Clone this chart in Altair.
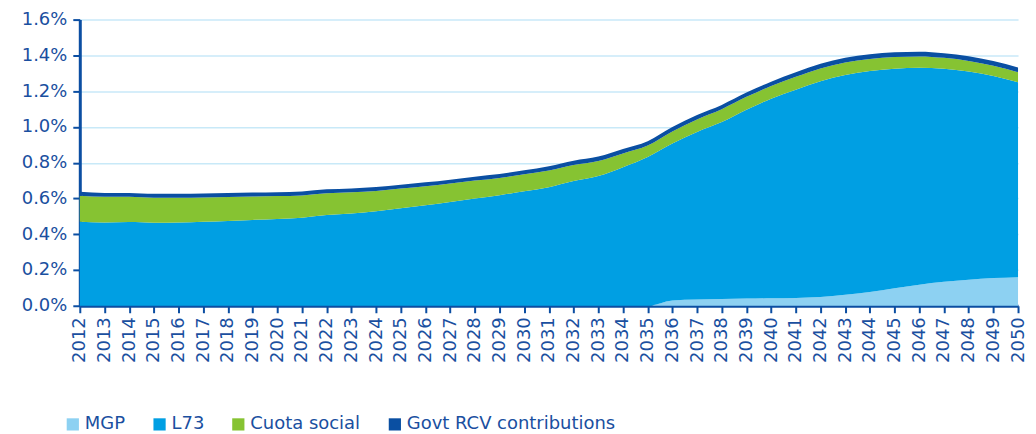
import altair as alt
import pandas as pd

years = list(range(2012, 2051))

mgp = [0.0] * 24 + [0.030, 0.035, 0.038, 0.040, 0.042, 0.044, 0.049, 0.062,
                    0.077, 0.098, 0.118, 0.134, 0.146, 0.155, 0.160]

l73 = [0.470, 0.466, 0.468, 0.464, 0.466, 0.470, 0.474, 0.480, 0.485, 0.492,
       0.507, 0.516, 0.528, 0.545, 0.562, 0.580, 0.600, 0.618, 0.640, 0.663,
       0.697, 0.725, 0.775, 0.832, 0.877, 0.937, 0.989, 1.056, 1.116, 1.164,
       1.206, 1.228, 1.235, 1.227, 1.213, 1.191, 1.164, 1.130, 1.090]

cuota = [0.145, 0.143, 0.141, 0.140, 0.138, 0.136, 0.134, 0.131, 0.128, 0.125,
         0.122, 0.118, 0.114, 0.110, 0.106, 0.103, 0.100, 0.097, 0.095, 0.093,
         0.090, 0.085, 0.077, 0.064, 0.068, 0.070, 0.072, 0.072, 0.071, 0.072,
         0.072, 0.070, 0.068, 0.066, 0.063, 0.061, 0.059, 0.057, 0.056]

govt = [0.022] * 19 + [0.024] * 10 + [0.026] * 10

series_names = ["MGP", "L73", "Cuota social", "Govt RCV contributions"]
series_colors = ["#8DD1F2", "#009FE3", "#86C332", "#0A4FA2"]
series_values = [mgp, l73, cuota, govt]

rows = []
for order, (name, vals) in enumerate(zip(series_names, series_values)):
    for y, v in zip(years, vals):
        rows.append({"year": y, "series": name, "value": v, "order": order})
df = pd.DataFrame(rows)

text_color = "#1A4FA0"
font = "DejaVu Sans"

chart = alt.Chart(df).mark_area(interpolate="monotone").encode(
    x=alt.X("year:Q",
            scale=alt.Scale(domain=[2012, 2050], nice=False, zero=False),
            axis=alt.Axis(values=years, format="d", labelAngle=-90, title=None,
                          grid=False, domainColor="#0B4EA2", domainWidth=3,
                          tickColor="#0B4EA2", tickWidth=2, tickSize=7,
                          labelFontSize=18, labelColor=text_color, labelFont=font,
                          labelPadding=4, labelOverlap=False)),
    y=alt.Y("value:Q", stack="zero",
            scale=alt.Scale(domain=[0, 1.6], nice=False),
            axis=alt.Axis(values=[0, 0.2, 0.4, 0.6, 0.8, 1.0, 1.2, 1.4, 1.6],
                          labelExpr="format(datum.value, '.1f') + '%'",
                          title=None, grid=True, gridColor="#C8E9F8", gridWidth=1.5,
                          domainColor="#0B4EA2", domainWidth=3,
                          tickColor="#0B4EA2", tickWidth=2, tickSize=7,
                          labelFontSize=18, labelColor=text_color, labelFont=font,
                          labelPadding=6)),
    color=alt.Color("series:N",
                    scale=alt.Scale(domain=series_names, range=series_colors),
                    legend=alt.Legend(orient="none", legendX=-16, legendY=397,
                                      direction="horizontal", title=None,
                                      symbolType="square", symbolSize=150,
                                      symbolStrokeWidth=0, labelFontSize=18,
                                      labelFont=font, labelColor=text_color,
                                      labelLimit=0, columnPadding=25,
                                      labelOffset=3)),
    order=alt.Order("order:Q", sort="ascending"),
).properties(
    width=941, height=287,
    padding={"left": 13, "top": 2, "right": 0, "bottom": 5},
).configure_view(stroke=None)

chart.save("out.html", embed_options={"renderer": "svg", "actions": False})
